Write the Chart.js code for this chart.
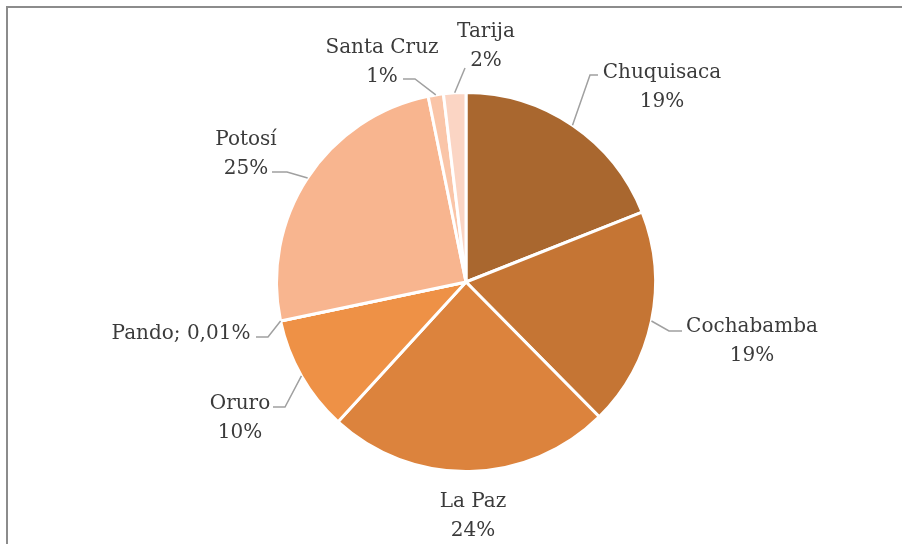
<!DOCTYPE html>
<html>
<head>
<meta charset="utf-8">
<script src="https://cdn.jsdelivr.net/npm/chart.js@4"></script>
<style>
  html, body { margin: 0; padding: 0; background: #fff; }
  #wrap { width: 902px; height: 544px; }
</style>
</head>
<body>
<div id="wrap"><canvas id="pieChart" width="902" height="544"></canvas></div>
<script>
const departments = ["Chuquisaca", "Cochabamba", "La Paz", "Oruro", "Pando", "Potosí", "Santa Cruz", "Tarija"];
const shares = [19.0, 18.6, 24.2, 9.9, 0.01, 25.1, 1.3, 1.9];
const sliceColors = ["#a9672f", "#c57534", "#dc833d", "#ee9146", "#f3a066", "#f8b58f", "#fac5a8", "#fbd5c4"];

// where each label sits: text centre x, first baseline, leader elbow + end (null = no leader)
const labelLayout = [
  { x: 662, y: 78, elbow: [590, 75], end: [598, 75] },
  { x: 752, y: 332, elbow: [669, 331], end: [682, 331] },
  { x: 473, y: 507, elbow: null, end: null },
  { x: 240, y: 409, elbow: [285, 407], end: [273, 407] },
  { x: 181, y: 339, elbow: [268, 337], end: [256, 337], oneLine: true },
  { x: 246, y: 145, elbow: [287, 172], end: [272, 172] },
  { x: 382, y: 53, elbow: [415, 79], end: [403, 79] },
  { x: 486, y: 37, elbow: [465, 68], end: [465, 68] },
];

const total = shares.reduce((a, b) => a + b, 0);

function pctText(v) {
  const p = (v / total) * 100;
  if (p < 0.5) return p.toFixed(2).replace(".", ",") + "%";
  return Math.round(p) + "%";
}

const labelPlugin = {
  id: "outsideLabels",
  beforeDraw(chart) {
    const ctx = chart.ctx;
    // frame of the chart box
    ctx.save();
    ctx.strokeStyle = "#8c8c8c";
    ctx.lineWidth = 2;
    ctx.beginPath();
    ctx.moveTo(7, 600);
    ctx.lineTo(7, 7);
    ctx.lineTo(910, 7);
    ctx.stroke();
    ctx.restore();
  },
  afterDraw(chart) {
    const ctx = chart.ctx;
    const meta = chart.getDatasetMeta(0);
    ctx.save();
    ctx.font = "20px 'DejaVu Serif'";
    ctx.textAlign = "center";
    ctx.textBaseline = "alphabetic";
    meta.data.forEach((arc, i) => {
      const lay = labelLayout[i];
      const mid = (arc.startAngle + arc.endAngle) / 2;
      if (lay.elbow) {
        const ax = arc.x + Math.cos(mid) * arc.outerRadius;
        const ay = arc.y + Math.sin(mid) * arc.outerRadius;
        ctx.strokeStyle = "#a0a0a0";
        ctx.lineWidth = 1.5;
        ctx.beginPath();
        ctx.moveTo(ax, ay);
        ctx.lineTo(lay.elbow[0], lay.elbow[1]);
        ctx.lineTo(lay.end[0], lay.end[1]);
        ctx.stroke();
      }
      ctx.fillStyle = "#3b3b3b";
      const pct = pctText(shares[i]);
      if (lay.oneLine) {
        ctx.fillText(departments[i] + "; " + pct, lay.x, lay.y);
      } else {
        ctx.fillText(departments[i], lay.x, lay.y);
        ctx.fillText(pct, lay.x, lay.y + 28.5);
      }
    });
    ctx.restore();
  },
};

new Chart(document.getElementById("pieChart"), {
  type: "pie",
  data: {
    labels: departments,
    datasets: [
      {
        data: shares,
        backgroundColor: sliceColors,
        borderColor: "#ffffff",
        borderWidth: 3,
      },
    ],
  },
  options: {
    responsive: false,
    animation: false,
    layout: {
      padding: { left: 275, right: 245, top: 91, bottom: 71 },
    },
    plugins: {
      legend: { display: false },
      tooltip: { enabled: false },
    },
  },
  plugins: [labelPlugin],
});
</script>
</body>
</html>
